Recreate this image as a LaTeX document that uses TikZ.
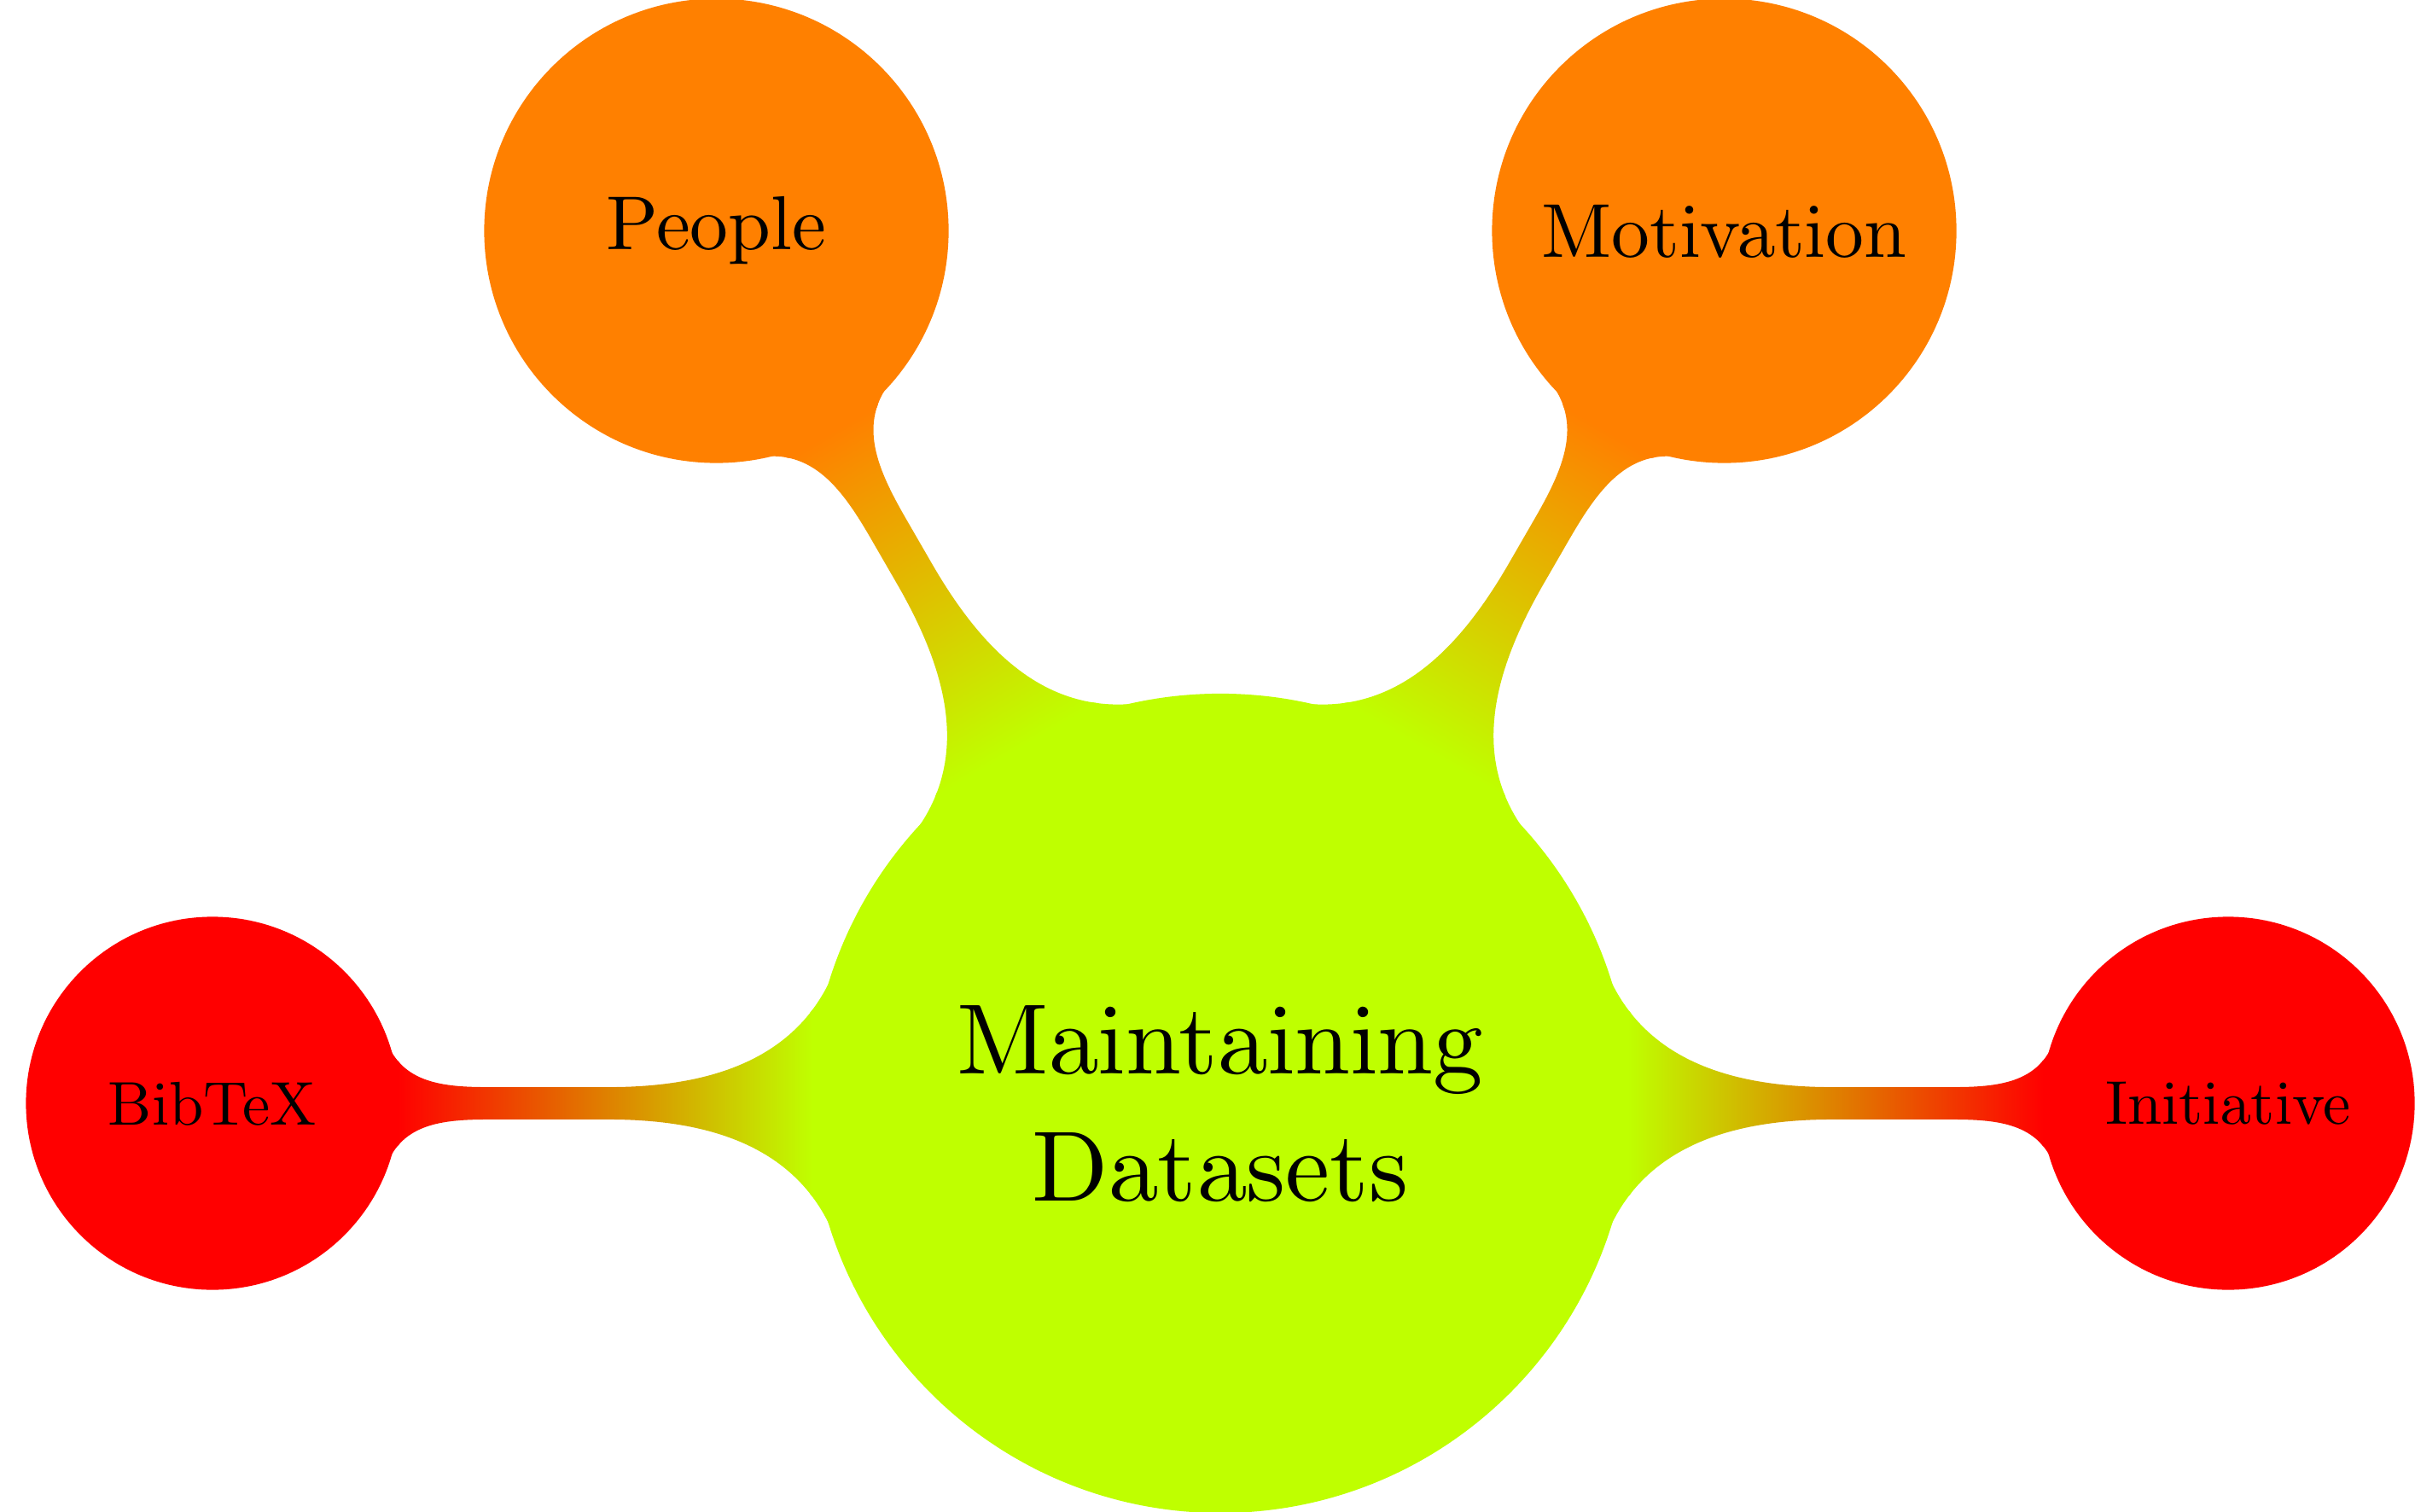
\documentclass[tikz,border=0pt]{standalone}
\usetikzlibrary{mindmap}
\font\rootf=cmr10 at 33.3pt
\font\bigf=cmr10 at 25.5pt
\font\smallf=cmr10 at 20.6pt
\begin{document}
\begin{tikzpicture}[mindmap,
  every node/.style={concept, circle, inner sep=0pt, text=black},
  rootc/.style={concept color=lime, fill=lime, minimum size=9.56cm, text width=8cm, align=center, font={\fontsize{33.3}{42.6}\selectfont\rootf}},
  bigc/.style={concept color=orange, fill=orange, minimum size=5.40cm, text width=5cm, align=center, font=\bigf},
  smallc/.style={concept color=red, fill=red, minimum size=4.33cm, text width=4cm, align=center, font=\smallf},
  barw/.style={line width=0.39cm, decoration={amplitude=0.195cm}}]
\useasboundingbox (0,0) rectangle (28.30,17.71);
\node[rootc] (root) at (14.30,4.78) {Maintaining\\Datasets};
\node[bigc] (people) at (8.395,15.005) {People};
\node[bigc] (motivation) at (20.205,15.005) {Motivation};
\node[smallc] (bibtex) at (2.49,4.78) {BibTeX};
\node[smallc] (initiative) at (26.11,4.78) {Initiative};
\path[barw] (root) to[circle connection bar switch color=from (lime) to (orange)] (people);
\path[barw] (root) to[circle connection bar switch color=from (lime) to (orange)] (motivation);
\path[barw] (root) to[circle connection bar switch color=from (lime) to (red)] (bibtex);
\path[barw] (root) to[circle connection bar switch color=from (lime) to (red)] (initiative);
\end{tikzpicture}
\end{document}
